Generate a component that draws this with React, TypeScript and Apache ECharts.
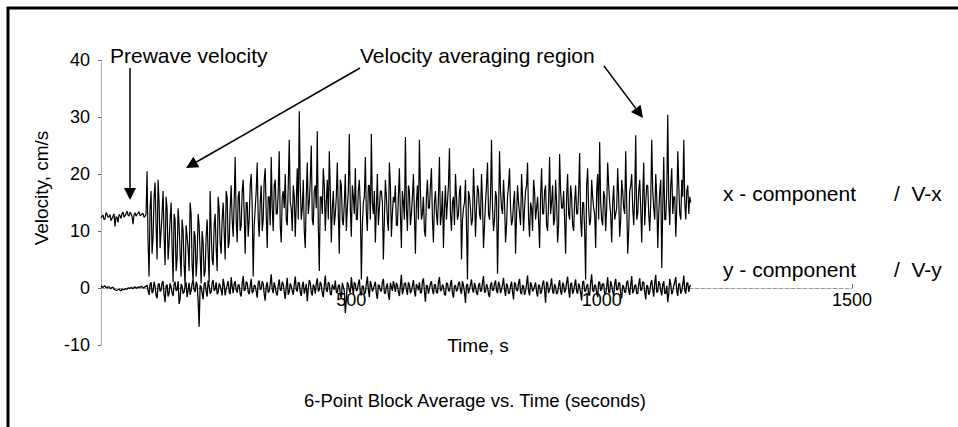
import React, { useEffect, useRef } from 'react';
import * as echarts from 'echarts';

// sampling interval of the block-averaged record (seconds); the "A" arrays hold the
// samples at t = 4i s, the "B" arrays the samples in between, at t = 4i + 2 s
const STEP = 4;
const HALF = 2;

// V-x (x - component), cm/s
const vxPrewaveA = [12.3, 12.8, 12.1, 13.0, 12.5, 11.8, 12.6, 10.8, 12.4, 12.9, 12.2, 13.3, 12.7, 13.5, 12.6, 13.0, 11.2, 13.2, 12.9, 13.4, 12.8, 13.1, 12.6];
const vxPrewaveB = [12.6, 12.0, 13.2, 12.4, 12.9, 12.2, 13.0, 12.5, 11.5, 12.7, 13.1, 12.4, 13.0, 12.8, 13.3, 12.5, 12.9, 12.6, 13.1, 12.7, 13.0, 12.4, 12.9];
const vxTransitionA = [
  20.5, 2, 17, 9, 18.5, 5, 15, 10, 17, 4, 14, 8,
  15, 1, 12, 5, 11, 2, 10, 0.5, 9, 3, 13, 1, 9, 5, 11, 0.8, 8, 3, 12, 1,
  10, 4, 13, 3, 14, 6, 15, 5, 16, 8, 18, 9,
];
const vxTransitionB = [
  8, 14, 6, 16, 11, 19, 7, 13, 9, 16, 5, 12,
  7, 13, 3, 14, 6, 12, 4, 11, 7, 15, 4, 10, 2, 13, 6, 10, 2, 9, 6, 17,
  5, 11, 7, 16, 8, 12, 10, 17, 7, 14, 12, 15,
];
const vxAveragingA = [
  23, 8, 17, 11, 19, 6, 15, 12, 20, 2,
  14, 22, 9, 18, 12, 21, 7, 16, 23, 10,
  19, 13, 24, 8, 17, 20, 11, 26, 14, 18,
  9, 21, 31, 12, 19, 7, 22, 15, 25, 11,
  18, 27.5, 3, 16, 21, 10, 19, 24, 8, 17,
  13, 22, 6, 18, 11, 20, 14, 27, 9, 16,
  21, 12, 19, 1.5, 15, 23, 10, 18, 27, 13,
  8, 20, 14, 17, 5, 19, 12, 22, 9, 16,
  18, 11, 21, 7, 15, 26.5, 10, 17, 13, 20,
  6, 18, 26, 12, 16, 9, 19, 14, 21, 8,
  17, 11, 23, 13, 7, 18, 15, 24.5, 10, 16,
  20, 12, 17, 5, 14, 19, 1.5, 16, 11, 21,
  9, 18, 13, 20, 7, 15, 22, 12, 26, 10,
  17, 2.5, 24, 14, 19, 8, 16, 21, 11, 15,
  6, 18, 13, 20, 10, 17, 22, 9, 14, 19,
  12, 16, 7, 21, 13, 18, 10, 23, 15, 11,
  19, 8, 23.5, 14, 17, 6, 20, 12, 16, 10,
  18, 13, 23.7, 9, 15, 1.5, 21, 11, 19, 14,
  7, 20, 25.6, 12, 17, 10, 22, 15, 8, 18,
  13, 21, 9, 19, 14, 24, 6, 17, 20, 11,
  26.8, 13, 19, 8, 22, 15, 18, 10, 26, 14,
  20, 7, 17, 3.5, 23, 12, 30.4, 11, 21, 16,
  9, 24, 13, 19, 26, 12, 18, 16,
];
const vxAveragingB = [
  12, 16, 10, 17, 13, 15, 9, 18, 14, 11,
  17, 12, 15, 10, 19, 13, 16, 11, 14, 18,
  13, 17, 11, 16, 14, 12, 18, 15, 10, 16,
  15, 12, 18, 14, 10, 16, 13, 19, 12, 17,
  14, 11, 16, 13, 18, 15, 12, 17, 14, 11,
  16, 13, 19, 12, 15, 10, 17, 14, 18, 13,
  12, 17, 14, 11, 16, 13, 18, 12, 15, 17,
  14, 11, 17, 15, 12, 16, 10, 18, 13, 15,
  11, 16, 13, 17, 12, 14, 18, 11, 16, 13,
  15, 12, 17, 13, 10, 16, 14, 18, 12, 15,
  13, 16, 11, 17, 14, 12, 18, 13, 15, 11,
  16, 13, 18, 12, 15, 11, 17, 14, 12, 16,
  14, 17, 12, 15, 11, 18, 13, 16, 14, 12,
  16, 12, 17, 13, 15, 11, 18, 14, 12, 17,
  13, 15, 11, 16, 14, 18, 12, 15, 10, 17,
  14, 12, 16, 13, 17, 11, 15, 13, 18, 12,
  15, 11, 17, 14, 12, 16, 13, 18, 11, 15,
  13, 17, 12, 15, 10, 18, 14, 12, 16, 13,
  17, 12, 15, 11, 16, 14, 18, 13, 15, 12,
  14, 16, 12, 17, 13, 15, 10, 18, 14, 16,
  12, 17, 14, 16, 11, 18, 13, 15, 17, 12,
  16, 13, 19, 14, 12, 17, 15, 18, 13, 16,
  14, 18, 12, 16, 15, 17, 13, 15,
];

// V-y (y - component), cm/s
const vyPrewaveA = [0.3, 0.1, 0.4, 0.0, 0.2, -0.1, 0.1, -0.3, -0.4, -0.2, -0.5, -0.3, -0.1, -0.2, 0.0, 0.1, -0.1, 0.2, 0.0, 0.1, 0.3, 0.0, 0.2];
const vyPrewaveB = [0.2, 0.3, 0.1, 0.2, 0.0, 0.1, -0.2, -0.4, -0.3, -0.4, -0.2, -0.3, -0.2, 0.0, -0.1, 0.0, 0.1, 0.0, 0.2, 0.1, 0.2, 0.1, 0.3];
const vyTransitionA = [
  0.5, -1.2, 1.0, -0.6, 0.3, -1.8, 0.8, -0.4, 1.2, -2.5, 0.6, -0.9,
  0.2, -1.4, 1.1, -0.3, -2.8, 0.7, -1.0, 0.4, -1.6, 0.9, -0.5, 1.3, -0.7, 0.6, -6.8, 0.2, -2.0, 1.0, -1.5, 0.4,
  -0.7, 1.4, -0.2, -1.1, 0.8, -0.4, 1.6, -1.3, 0.5, -0.6, 1.9, -0.9,
];
const vyTransitionB = [
  -0.4, 0.7, -0.9, 1.1, -1.3, 0.5, -0.6, 0.9, -1.1, 0.4, -1.5, 0.8,
  -0.8, 0.6, -0.5, 1.2, -1.9, 0.3, -0.7, 1.0, -0.4, -1.2, 0.8, -0.3, 1.1, -2.2, 0.5, -0.9, 0.7, -0.6, 1.3, -1.0,
  0.9, -0.5, 1.0, -0.8, 0.4, -1.3, 0.6, -0.2, 1.2, -1.1, 0.3, 0.7,
];
const vyAveragingA = [
  1.2, -0.8, 0.5, -1.5, 2.1, -0.3, 0.9, -1.1, 1.6, -0.6,
  0.4, -1.7, 1.3, -0.2, 0.8, -2.2, 1.0, -0.5, 2.4, -0.9,
  0.2, -1.3, 1.5, -0.4, 0.7, -1.9, 1.8, -0.7, 0.3, -1.2,
  2.0, -0.6, 0.9, -1.4, 1.1, -0.1, -2.3, 1.4, -0.8, 0.6,
  -1.0, 1.7, -0.3, 0.5, -1.6, 2.2, -0.7, 0.8, -1.2, 0.1,
  1.3, -0.9, 0.6, -1.8, 0.2, -4.4, 1.0, -0.5, 1.9, -1.1,
  0.7, -0.4, 1.5, -1.3, 0.3, -0.8, 2.0, -1.6, 0.5, -0.2,
  1.1, -1.9, 0.4, -0.6, 1.6, -1.0, 0.8, -2.1, 0.2, 1.2,
  -0.7, 0.5, -1.4, 2.3, -0.3, 0.9, -1.2, 0.6, -0.5, 1.4,
  -1.5, 0.3, 1.0, -0.8, 1.7, -2.4, 0.4, -0.2, 1.2, -1.1,
  0.6, -0.9, 1.9, -0.4, 0.2, -1.3, 0.8, -0.6, 1.4, -1.7,
  0.5, -0.3, 1.1, -1.0, 0.4, -2.6, 0.7, -0.2, 1.5, -0.8,
  0.3, -1.2, 0.9, -0.5, 2.1, -0.7, 0.2, -1.6, 1.0, -0.4,
  1.3, -0.9, 0.6, -0.3, 1.8, -1.4, 0.4, -0.8, 1.1, -2.0,
  0.7, -0.5, 1.6, -1.1, 0.3, -0.6, 2.2, -1.3, 0.5, -0.2,
  1.0, -1.5, 0.4, -0.7, 1.3, -2.6, 0.8, -0.3, 1.7, -1.0,
  0.2, -0.8, 1.4, -1.2, 0.6, -0.4, 2.0, -1.7, 0.9, -0.5,
  1.5, -1.0, 0.3, -2.2, 1.2, -0.6, 0.7, -1.3, 2.4, -0.7,
  0.4, -1.6, 1.1, -0.2, 0.8, -1.1, 1.9, -0.9, 0.5, -1.4,
  1.6, -0.3, 0.9, -1.8, 0.2, -0.7, 1.3, -1.2, 2.1, -0.5,
  0.6, -1.0, 1.7, -0.4, 1.0, -2.0, 0.3, -0.8, 1.4, -1.5,
  2.3, -0.6, 0.8, -1.3, 1.2, -0.9, -2.5, 1.6, -1.1, 0.4,
  1.9, -1.4, 0.7, -0.5, 2.2, -1.0, 0.9, 0.3,
];
const vyAveragingB = [
  -0.4, 0.6, -1.0, 0.8, -0.5, 1.1, -0.7, 0.3, -0.9, 0.5,
  -0.6, 0.9, -0.3, 1.2, -1.1, 0.4, -0.8, 0.7, -0.2, 1.0,
  -0.9, 0.5, -0.4, 1.1, -0.7, 0.3, -1.2, 0.8, -0.5, 0.6,
  -0.3, 1.0, -0.8, 0.4, -1.0, 0.7, -0.2, 0.9, -1.3, 0.2,
  0.8, -0.6, 1.1, -0.9, 0.5, -0.4, 1.0, -1.1, 0.6, -0.3,
  -0.7, 0.4, -1.2, 0.9, -0.5, -2.0, 0.6, -0.8, 0.3, 1.0,
  -0.5, 0.8, -0.9, 0.4, -1.1, 0.7, -0.3, 1.2, -0.6, 0.5,
  -1.0, 0.6, -0.4, 1.0, -0.8, 0.3, -1.2, 0.9, -0.5, 0.4,
  0.9, -0.7, 0.5, -1.1, 0.8, -0.3, 1.0, -0.9, 0.4, -0.6,
  0.7, -0.4, -0.9, 1.1, -0.6, 0.5, -1.0, 0.8, -0.3, 0.6,
  -0.8, 1.0, -0.5, 0.6, -1.1, 0.9, -0.4, 0.7, -0.9, 0.3,
  -0.6, 0.8, -0.4, 1.2, -0.7, 0.5, -1.0, 0.6, -0.3, 0.9,
  -0.9, 0.4, -0.6, 1.0, -0.8, 0.7, -1.1, 0.5, -0.4, 0.8,
  -0.5, 1.1, -0.9, 0.6, -0.3, 0.8, -1.0, 0.4, -0.7, 1.0,
  -0.4, 0.9, -0.8, 0.5, -1.2, 0.7, -0.5, 1.0, -0.6, 0.3,
  -0.7, 0.6, -1.0, 0.8, -0.4, 1.1, -0.9, 0.5, -0.6, 0.7,
  -1.1, 0.4, -0.6, 0.9, -0.8, 1.0, -0.3, 0.7, -1.0, 0.5,
  -0.6, 0.8, -0.9, 1.1, -0.5, 0.4, -1.2, 0.9, -0.4, 0.6,
  -0.8, 1.0, -0.5, 0.7, -1.0, 0.3, -0.7, 1.2, -0.6, 0.8,
  -0.4, 0.9, -1.1, 0.5, -0.8, 1.0, -0.5, 0.6, -0.9, 0.4,
  -1.0, 0.7, -0.4, 1.1, -0.7, 0.5, -1.2, 0.8, -0.3, 0.9,
  -0.8, 1.2, -0.5, 0.6, -1.0, 0.4, -0.9, 0.7, -0.6, 1.1,
  -0.5, 0.8, -1.0, 0.6, -0.4, 0.9, -0.7, 0.5,
];

const Y_MIN = -10;
const Y_MAX = 40;
const Y_STEP = 10;
const X_MIN = 0;
const X_MAX = 1500;
const X_STEP = 500;

const seriesNames = ['V-x', 'V-y'];
const componentLabels = ['x - component', 'y - component'];
const annotationTexts = ['Prewave velocity', 'Velocity averaging region'];
const xAxisTitle = 'Time, s';
const yAxisTitle = 'Velocity, cm/s';
const chartTitle = '6-Point Block Average vs. Time (seconds)';

const FONT = '"Liberation Sans", Arial, Helvetica, sans-serif';

function interleave(a: number[], b: number[]): [number, number][] {
  const out: [number, number][] = [];
  for (let i = 0; i < a.length; i++) {
    out.push([i * STEP, a[i]]);
    if (i < b.length) out.push([i * STEP + HALF, b[i]]);
  }
  return out;
}

function arrow(x1: number, y1: number, x2: number, y2: number) {
  const dx = x2 - x1;
  const dy = y2 - y1;
  const len = Math.sqrt(dx * dx + dy * dy);
  const ux = dx / len;
  const uy = dy / len;
  const L = 12;
  const W = 6;
  const bx = x2 - ux * L;
  const by = y2 - uy * L;
  const nx = -uy;
  const ny = ux;
  return [
    {
      type: 'line',
      shape: { x1, y1, x2: bx, y2: by },
      style: { stroke: '#000', lineWidth: 1.5 },
      silent: true,
    },
    {
      type: 'polygon',
      shape: {
        points: [
          [x2, y2],
          [bx + nx * W, by + ny * W],
          [bx - nx * W, by - ny * W],
        ],
      },
      style: { fill: '#000' },
      silent: true,
    },
  ];
}

function txt(text: string, x: number, y: number, size: number, align = 'left', extra: any = {}) {
  return {
    type: 'text',
    x,
    y,
    silent: true,
    ...extra,
    style: {
      text,
      fill: '#000',
      font: `${size}px ${FONT}`,
      align,
      verticalAlign: 'middle',
    },
  };
}

export default function App() {
  const ref = useRef<HTMLDivElement>(null);

  useEffect(() => {
    document.body.style.margin = '0';
    if (!ref.current) return;
    const chart = echarts.init(ref.current, undefined, { renderer: 'svg' });

    const vx = interleave(
      [...vxPrewaveA, ...vxTransitionA, ...vxAveragingA],
      [...vxPrewaveB, ...vxTransitionB, ...vxAveragingB],
    );
    const vy = interleave(
      [...vyPrewaveA, ...vyTransitionA, ...vyAveragingA],
      [...vyPrewaveB, ...vyTransitionB, ...vyAveragingB],
    );

    chart.setOption({
      animation: false,
      backgroundColor: '#fff',
      grid: { left: 101, right: 106, top: 60, bottom: 82, containLabel: false },
      xAxis: {
        type: 'value',
        min: X_MIN,
        max: X_MAX,
        interval: X_STEP,
        offset: -57,
        axisLine: { onZero: false, lineStyle: { color: '#999', type: 'dashed', width: 1 } },
        axisTick: { show: true, inside: true, length: 4, lineStyle: { color: '#666' } },
        splitLine: { show: false },
        axisLabel: {
          color: '#000',
          fontSize: 18,
          fontFamily: FONT,
          margin: 3,
          formatter: (v: number) => (v === 0 ? '' : String(v)),
        },
      },
      yAxis: {
        type: 'value',
        min: Y_MIN,
        max: Y_MAX,
        interval: Y_STEP,
        axisLine: { show: true, lineStyle: { color: '#999', type: 'dotted', width: 1 } },
        axisTick: { show: true, length: 3, lineStyle: { color: '#666' } },
        splitLine: { show: false },
        axisLabel: { color: '#000', fontSize: 18, fontFamily: FONT, margin: 11 },
      },
      series: [
        {
          name: seriesNames[0],
          type: 'line',
          data: vx,
          symbol: 'none',
          lineStyle: { color: '#000', width: 1.2 },
          silent: true,
        },
        {
          name: seriesNames[1],
          type: 'line',
          data: vy,
          symbol: 'none',
          lineStyle: { color: '#000', width: 1.3 },
          silent: true,
        },
      ],
      graphic: [
        // page frame (left and top edges)
        { type: 'line', shape: { x1: 8, y1: 7, x2: 8, y2: 427 }, style: { stroke: '#000', lineWidth: 3 }, silent: true },
        { type: 'line', shape: { x1: 7, y1: 8, x2: 958, y2: 8 }, style: { stroke: '#000', lineWidth: 3 }, silent: true },
        txt(annotationTexts[0], 110, 55, 21),
        ...arrow(130, 68, 130, 200),
        txt(annotationTexts[1], 360, 55, 21),
        ...arrow(360, 68, 186, 168),
        ...arrow(604, 66, 643, 118),
        txt(componentLabels[0], 723, 193, 21),
        txt('/  ' + seriesNames[0], 894, 193, 21),
        txt(componentLabels[1], 723, 269, 21),
        txt('/  ' + seriesNames[1], 894, 269, 21),
        txt(xAxisTitle, 478, 345, 19, 'center'),
        txt(chartTitle, 475, 400, 18.5, 'center'),
        txt(yAxisTitle, 41, 188, 19, 'center', { rotation: Math.PI / 2 }),
      ],
    });

    return () => chart.dispose();
  }, []);

  return <div ref={ref} style={{ width: 958, height: 427 }} />;
}
